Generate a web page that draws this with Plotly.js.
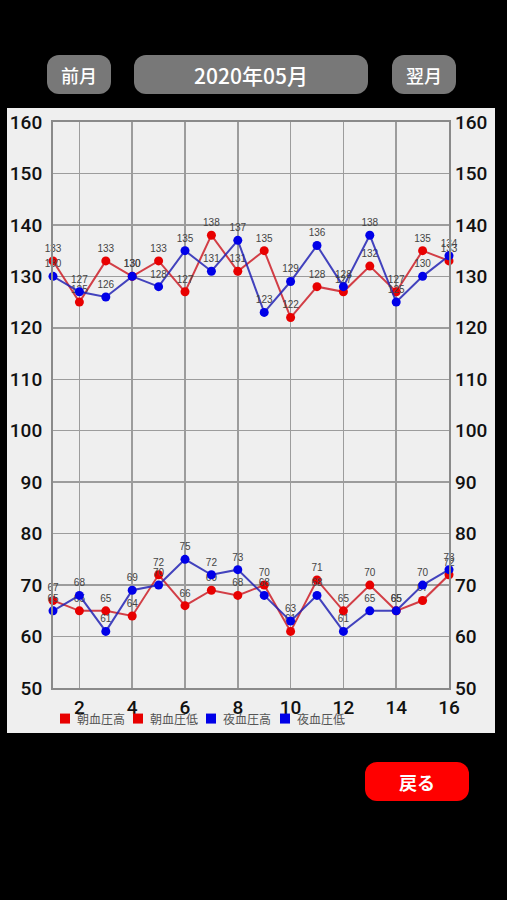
<!DOCTYPE html>
<html>
<head>
<meta charset="utf-8">
<script src="https://cdn.plot.ly/plotly-3.0.1.min.js"></script>
<style>
  html, body { margin: 0; padding: 0; background: #000; width: 507px; height: 900px; overflow: hidden; }
  .btn { position: absolute; background: #787878; color: #fff; border-radius: 12px;
         font-family: "Noto Sans CJK JP", "Liberation Sans", sans-serif; font-weight: 500; display: flex;
         align-items: center; justify-content: center; }
  #panel { position: absolute; left: 7px; top: 108px; width: 488px; height: 625px; background: #efefef; }
</style>
</head>
<body>
<div class="btn" style="left:47px;top:55px;width:64px;height:39px;font-size:18px;">前月</div>
<div class="btn" style="left:134px;top:55px;width:234px;height:39px;font-size:21px;">2020年05月</div>
<div class="btn" style="left:392px;top:55px;width:64px;height:39px;font-size:18px;">翌月</div>
<div class="btn" style="left:365px;top:762px;width:104px;height:39px;font-size:18px;font-weight:bold;background:#ff0000;">戻る</div>
<div id="panel"></div>
<script>
// ---- data ----
const days = [1,2,3,4,5,6,7,8,9,10,11,12,13,14,15,16];
const amHigh = [133,125,133,130,133,127,138,131,135,122,128,127,132,127,135,133];
const amLow  = [67,65,65,64,72,66,69,68,70,61,71,65,70,65,67,72];
const pmHigh = [130,127,126,130,128,135,131,137,123,129,136,128,138,125,130,134];
const pmLow  = [65,68,61,69,70,75,72,73,68,63,68,61,65,65,70,73];
const seriesNames = ['朝血圧高','朝血圧低','夜血圧高','夜血圧低'];
const xTickVals = [2,4,6,8,10,12,14,16];
const yTickVals = [50,60,70,80,90,100,110,120,130,140,150,160];

const RED = '#e80000', BLUE = '#0000e8';
const RED_LINE = 'rgba(205,30,40,0.85)', BLUE_LINE = 'rgba(35,35,180,0.85)';
const seriesData = [amHigh, amLow, pmHigh, pmLow];
const markerColors = [RED, RED, BLUE, BLUE];
const lineColors = [RED_LINE, RED_LINE, BLUE_LINE, BLUE_LINE];

const traces = seriesData.map((vals, i) => ({
  type: 'scatter', mode: 'lines+markers+text', x: days, y: vals,
  name: seriesNames[i], showlegend: false, cliponaxis: false,
  text: vals.map(String), textposition: 'top center',
  textfont: {family: 'Liberation Sans, Arial, sans-serif', size: 10, color: '#444'},
  line: {color: lineColors[i], width: 2},
  marker: {color: markerColors[i], size: 9},
  hoverinfo: 'skip'
}));
// anchor trace for right axis (no points)
traces.push({type: 'scatter', x: [null], y: [null], yaxis: 'y2', showlegend: false, hoverinfo: 'skip'});

const W = 488, H = 625;
const M = {l: 46, r: 46, t: 14, b: 45};
const plotW = W - M.l - M.r;
const px2paper = px => (px - M.l) / plotW;

// custom legend (squares + labels)
const legendSquareX = [58, 131, 204, 278];
const shapes = [], annotations = [];
seriesNames.forEach((nm, i) => {
  shapes.push({type: 'rect', xref: 'paper', yref: 'paper',
    xsizemode: 'pixel', ysizemode: 'pixel',
    xanchor: px2paper(legendSquareX[i]), yanchor: -0.054,
    x0: -5, x1: 5, y0: -5, y1: 5,
    fillcolor: markerColors[i], line: {width: 0}});
  annotations.push({xref: 'paper', yref: 'paper', x: px2paper(legendSquareX[i] + 10), y: -0.054,
    xanchor: 'left', yanchor: 'middle', showarrow: false, text: nm,
    font: {family: 'Noto Sans CJK JP, sans-serif', size: 12, color: '#555'}});
});

const axisFont = {family: 'Roboto, Liberation Sans, Arial, sans-serif', size: 19, color: '#111', weight: 500};
const layout = {
  width: W, height: H, margin: M,
  paper_bgcolor: '#efefef', plot_bgcolor: '#efefef',
  showlegend: false,
  xaxis: {range: [1, 16], tickvals: xTickVals, ticktext: xTickVals.map(String),
    showgrid: true, gridcolor: '#9c9c9c', gridwidth: 1.5, zeroline: false,
    showline: true, mirror: true, linecolor: '#8a8a8a', linewidth: 2,
    ticks: '', tickfont: axisFont, ticklabelstandoff: 1, fixedrange: true},
  yaxis: {range: [50, 160], tickvals: yTickVals, ticktext: yTickVals.map(String),
    showgrid: true, gridcolor: '#9c9c9c', gridwidth: 1.5, zeroline: false,
    showline: true, mirror: true, linecolor: '#8a8a8a', linewidth: 2,
    ticks: '', tickfont: axisFont, ticklabelstandoff: 5, fixedrange: true},
  yaxis2: {range: [50, 160], tickvals: yTickVals, ticktext: yTickVals.map(String),
    overlaying: 'y', side: 'right', showgrid: false, zeroline: false, showline: false,
    ticks: '', tickfont: axisFont, ticklabelstandoff: 5, fixedrange: true},
  shapes: shapes, annotations: annotations
};
Plotly.newPlot('panel', traces, layout, {displayModeBar: false, staticPlot: true});
</script>
</body>
</html>
